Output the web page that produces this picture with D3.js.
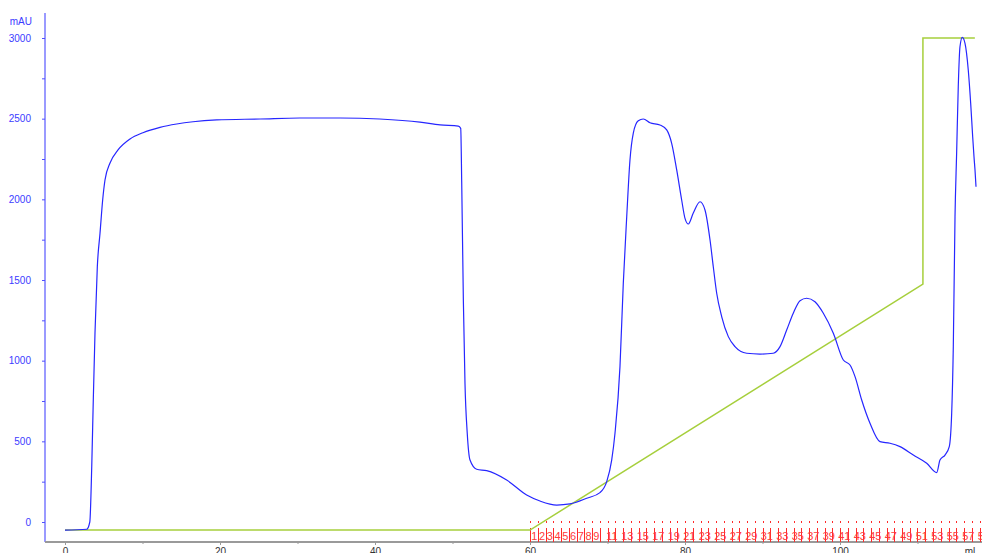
<!DOCTYPE html>
<html>
<head>
<meta charset="utf-8">
<script src="https://cdn.jsdelivr.net/npm/d3@7"></script>
<style>
	html, body { margin: 0; padding: 0; background: #fff; overflow: hidden; }
	svg { display: block; font-family: 'Liberation Sans', Arial, sans-serif; }
</style>
</head>
<body>
<div id="chart"></div>
<script>
const uvMl = [
	0, 2.8, 3.2, 3.45, 3.65, 3.87, 4.17, 4.52, 4.86, 5.16, 5.81, 6.84, 8.39, 10.06, 12.26, 14.41, 16.52, 19.57,
	25.2, 30.3, 35.5, 40.6, 45.8, 48.4, 50.75, 51.06, 51.19, 51.4, 51.61, 51.9, 52.26, 53.12, 54.41, 56.99,
	59.57, 61.29, 63.45, 65.16, 67.32, 69.03, 69.9, 70.54, 70.97, 71.61, 72.04, 72.48, 72.9, 73.33, 73.97,
	74.62, 75.48, 76.77, 77.64, 78.28, 78.93, 79.57, 80.0, 80.43, 81.07, 81.94, 82.58, 83.23, 83.65, 84.09,
	84.74, 85.59, 86.45, 87.96, 89.68, 91.39, 92.26, 93.12, 93.97, 94.84, 95.7, 96.77, 97.85, 99.14, 100.43,
	101.29, 101.94, 102.8, 103.87, 105.16, 106.45, 107.74, 109.46, 111.19, 112.48, 112.9, 113.55, 114.1,
	114.41, 114.62, 114.84, 115.05, 115.26, 115.48, 115.78, 116.13, 116.55, 116.86, 117.12, 117.29, 117.42,
	117.55
];
const uvMau = [
	-50, -45, 0, 343, 756, 1171, 1582, 1791, 1996, 2120, 2225, 2306, 2374, 2413, 2446, 2467, 2481, 2492,
	2498, 2504, 2504, 2498, 2479, 2461, 2454, 2440, 2101, 1376, 862, 552, 384, 327, 318, 260,
	167, 130, 105, 112, 147, 182, 250, 384, 552, 963, 1481, 1892, 2244, 2411, 2487,
	2498, 2475, 2461, 2430, 2347, 2182, 1996, 1882, 1847, 1915, 1985, 1934, 1748, 1582, 1418,
	1272, 1149, 1087, 1046, 1041, 1046, 1087, 1190, 1294, 1372, 1387, 1365, 1294, 1170, 1004,
	973, 901, 756, 612, 498, 488, 467, 415, 364, 306, 384, 415, 467,
	674, 1087, 1892, 2287, 2698, 2946, 3004, 2967, 2802, 2597, 2388, 2264, 2182,
	2078
];

// Gradiente (% B)
const gradMl = [0, 60, 110.7, 110.7, 117.4];
const gradPctB = [0, 0, 50, 100, 100];

// Fracciones
const fractionMl = [
	60, 61, 62, 63, 64, 65, 66, 67, 68, 69, 70, 71, 72, 73, 74, 75, 76, 77, 78, 79,
	80, 81, 82, 83, 84, 85, 86, 87, 88, 89, 90, 91, 92, 93, 94, 95, 96, 97, 98, 99,
	100, 101, 102, 103, 104, 105, 106, 107, 108, 109, 110, 111, 112, 113, 114, 115, 116, 117, 118
];
const fractionSizeMl = 1;

// Ejes
const yTicks = [0, 500, 1000, 1500, 2000, 2500, 3000];
const yMinorTicks = [250, 750, 1250, 1750, 2250, 2750];
const xTicks = [0, 20, 40, 60, 80, 100];
const xMinorTicks = [10, 30, 50, 70, 90, 110];

const W = 982;
const H = 553;
const axisX = 45;
const axisY = 542;
const axisTop = 13;

const svg = d3
	.select('#chart')
	.append('svg')
	.attr('width', W)
	.attr('height', H);

// Escalas
const x = d3.scaleLinear().domain([0, 120]).range([65, 995]);
const y = d3.scaleLinear().domain([0, 3000]).range([522, 38]);
const yB = d3.scaleLinear().domain([0, 100]).range([y(-50), y(3000)]);

// Eje Y
svg
	.append('line')
	.attr('x1', axisX)
	.attr('x2', axisX)
	.attr('y1', axisTop)
	.attr('y2', axisY)
	.attr('stroke', '#7878ff')
	.attr('stroke-width', 1.5);

const yAxis = svg
	.append('g')
	.attr('transform', `translate(${axisX},0)`)
	.call(d3.axisLeft(y).tickValues(yTicks).tickSize(3).tickPadding(11).tickFormat(d3.format('d')));
yAxis.select('.domain').remove();
yAxis.selectAll('line').attr('stroke', '#5050ff');
yAxis.selectAll('text').attr('fill', '#3c3cff').style('font-size', '10px');

svg
	.append('g')
	.attr('transform', `translate(${axisX},0)`)
	.call(d3.axisLeft(y).tickValues(yMinorTicks).tickSize(3).tickFormat(''))
	.call((g) => g.select('.domain').remove())
	.selectAll('line')
	.attr('stroke', '#5050ff');

svg
	.append('text')
	.attr('x', 32)
	.attr('y', 25)
	.attr('text-anchor', 'end')
	.attr('fill', '#3c3cff')
	.style('font-size', '10px')
	.text('mAU');

// Eje X
svg
	.append('line')
	.attr('x1', axisX)
	.attr('x2', W)
	.attr('y1', axisY)
	.attr('y2', axisY)
	.attr('stroke', '#9a9a9a')
	.attr('stroke-width', 2);

const xAxis = svg
	.append('g')
	.attr('transform', `translate(0,${axisY})`)
	.call(d3.axisBottom(x).tickValues(xTicks).tickSize(3).tickPadding(3));
xAxis.select('.domain').remove();
xAxis.selectAll('line').attr('stroke', '#9a9a9a');
xAxis.selectAll('text').attr('fill', '#333').style('font-size', '10px');

svg
	.append('g')
	.attr('transform', `translate(0,${axisY})`)
	.call(d3.axisBottom(x).tickValues(xMinorTicks).tickSize(2).tickFormat(''))
	.call((g) => g.select('.domain').remove())
	.selectAll('line')
	.attr('stroke', '#9a9a9a');

svg
	.append('text')
	.attr('x', W - 12)
	.attr('y', axisY + 6)
	.attr('dy', '0.71em')
	.attr('text-anchor', 'middle')
	.attr('fill', '#333')
	.style('font-size', '10px')
	.text('ml');

// Marcas de fracciones
const frac = svg.append('g');
frac
	.selectAll('line')
	.data(fractionMl)
	.join('line')
	.attr('x1', (d) => Math.round(x(d)) + 0.5)
	.attr('x2', (d) => Math.round(x(d)) + 0.5)
	.attr('y1', axisY - 21)
	.attr('y2', axisY)
	.attr('stroke', '#ff2a2a')
	.attr('stroke-width', 1)
	.attr('stroke-dasharray', '2,5,14');

frac
	.selectAll('text')
	.data(fractionMl.map((d, i) => ({ ml: d, n: i + 1 })).filter((d) => d.n < 10 || d.n % 2 === 1))
	.join('text')
	.attr('x', (d) => x(d.ml + fractionSizeMl / 2) + 0.5)
	.attr('y', axisY - 2.5)
	.attr('text-anchor', 'middle')
	.attr('fill', '#ff3a3a')
	.style('font-family', "'Liberation Sans Narrow', 'Liberation Sans', sans-serif")
	.style('font-size', '11px')
	.text((d) => d.n);

// Gradiente %B
svg
	.append('path')
	.datum(gradMl.map((d, i) => [d, gradPctB[i]]))
	.attr('fill', 'none')
	.attr('stroke', '#a6cf3c')
	.attr('stroke-width', 1.5)
	.attr(
		'd',
		d3
			.line()
			.x((d) => x(d[0]))
			.y((d) => yB(d[1])),
	);

// Curva UV
svg
	.append('path')
	.datum(uvMl.map((d, i) => [d, uvMau[i]]))
	.attr('fill', 'none')
	.attr('stroke', '#2626ff')
	.attr('stroke-width', 1.2)
	.attr('stroke-linejoin', 'round')
	.attr(
		'd',
		d3
			.line()
			.curve(d3.curveMonotoneX)
			.x((d) => x(d[0]))
			.y((d) => y(d[1])),
	);
</script>
</body>
</html>
